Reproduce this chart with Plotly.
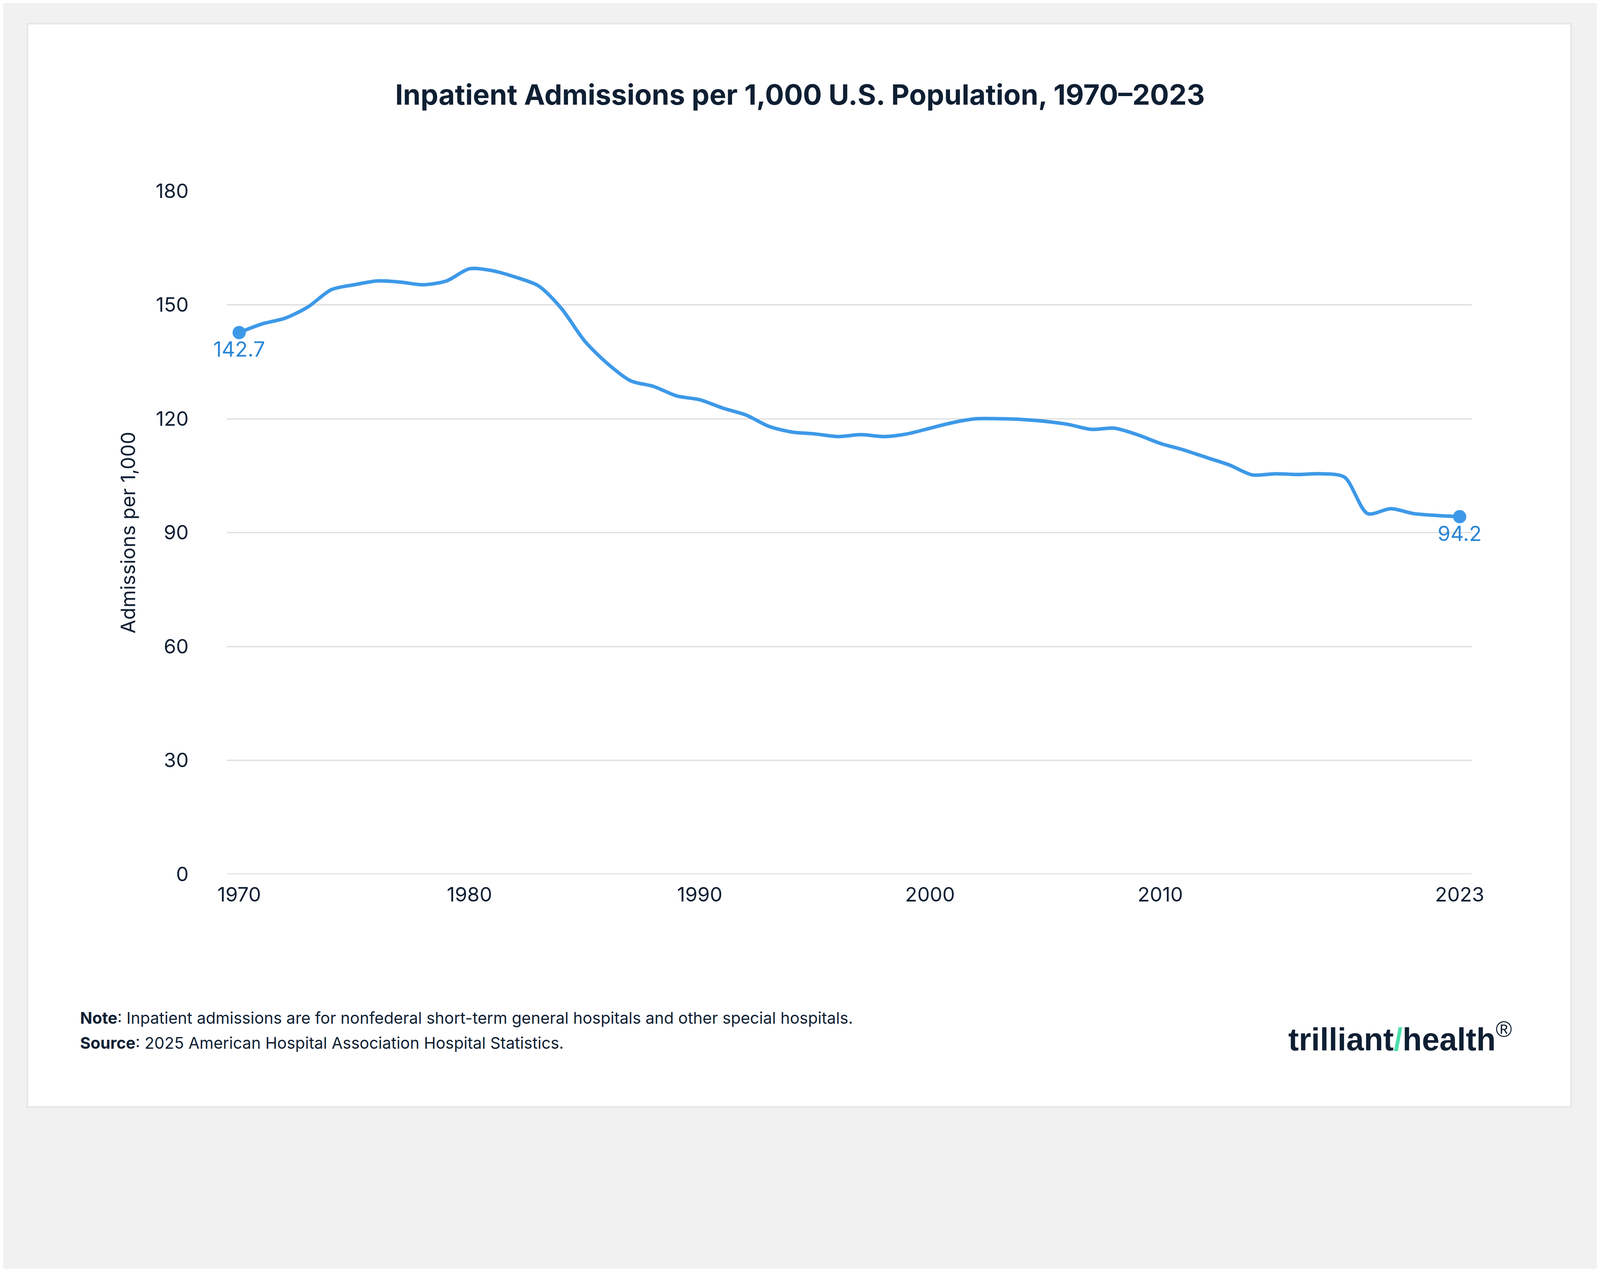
import plotly.graph_objects as go

years = list(range(1970, 2024))
admissions = [
    142.7, 145.0, 146.5, 149.5, 154.0, 155.3, 156.3, 156.0, 155.3, 156.3,
    159.5, 159.0, 157.3, 155.0, 149.0, 140.5, 134.5, 130.0, 128.5, 126.0,
    125.0, 122.8, 121.0, 118.0, 116.5, 116.0, 115.3, 115.8, 115.3, 116.0,
    117.5, 119.0, 120.0, 120.0, 119.8, 119.3, 118.5, 117.2, 117.5, 115.8,
    113.5, 111.8, 109.8, 107.8, 105.2, 105.5, 105.3, 105.5, 104.6, 95.0,
    96.3, 95.0, 94.5, 94.2,
]
x_ticks = [1970, 1980, 1990, 2000, 2010, 2023]
y_ticks = [0, 30, 60, 90, 120, 150, 180]

# the page came out zoomed ~1.13x, so everything is laid out at this scale
S = 1 / 1.13
EXTRA = 360  # viewport is taller than the reference aspect; fill it with background
W, H = round(4610 * S), round(3254 * S) + EXTRA
L, R, T, B = 647, 362, 544, 735
PW, PH = 4610 - L - R, 3254 - T - B
blue = "#3d99e8"
navy = "#0f1f33"
font = "Inter"


def px(v):
    return round(v * S)


fig = go.Figure()
fig.add_trace(go.Scatter(
    x=years, y=admissions, mode="lines",
    line=dict(color=blue, width=px(10), shape="spline", smoothing=0.8),
    hoverinfo="skip", showlegend=False,
))
fig.add_trace(go.Scatter(
    x=[years[0], years[-1]], y=[admissions[0], admissions[-1]],
    mode="markers+text", marker=dict(color=blue, size=px(38)),
    text=[f"{admissions[0]:.1f}", f"{admissions[-1]:.1f}"],
    textposition="bottom center", textfont=dict(color="#2a86d6", size=px(60), family=font),
    showlegend=False, hoverinfo="skip", cliponaxis=False,
))

fig.update_layout(
    width=W, height=H,
    paper_bgcolor="#f1f1f1", plot_bgcolor="white",
    margin=dict(l=px(L), r=px(R), t=px(T), b=px(B) + EXTRA),
    font=dict(family=font, color=navy),
    title=dict(text="<b>Inpatient Admissions per 1,000 U.S. Population, 1970–2023</b>",
               x=0.5, xanchor="center", y=1 - px(265) / H, yanchor="middle",
               font=dict(size=px(81), color=navy, family=font)),
    xaxis=dict(range=[1969.47, 2023.53], tickvals=x_ticks, showgrid=False,
               zeroline=False, showline=False, ticks="", tickfont=dict(size=px(58), color=navy),
               ticklabelstandoff=px(20)),
    yaxis=dict(range=[0, 180], tickvals=y_ticks, gridcolor="#dcdcdc", gridwidth=px(3),
               zeroline=False, ticks="", tickfont=dict(size=px(58), color=navy),
               ticklabelstandoff=px(110),
               title=dict(text="Admissions per 1,000", font=dict(size=px(58), color=navy), standoff=px(40))),
    shapes=[
        dict(type="rect", xref="paper", yref="paper", x0=-(L - 70) / PW, x1=1 + (R - 75) / PW,
             y0=-(B - 62) / PH, y1=1 + (T - 60) / PH,
             fillcolor="white", line=dict(color="#e6e6e6", width=px(4)), layer="below"),
        dict(type="line", xref="paper", yref="y", x0=0, x1=1, y0=0, y1=0,
             line=dict(color="#cfcfcf", width=px(3))),
    ],
    annotations=[
        dict(xref="paper", yref="paper", x=-(L - 220) / PW, y=-(2935 - 2519) / PH,
             xanchor="left", yanchor="middle", showarrow=False, align="left",
             text="<b>Note</b>: Inpatient admissions are for nonfederal short-term general hospitals and other special hospitals.",
             font=dict(size=px(46), color=navy)),
        dict(xref="paper", yref="paper", x=-(L - 220) / PW, y=-(3007 - 2519) / PH,
             xanchor="left", yanchor="middle", showarrow=False, align="left",
             text="<b>Source</b>: 2025 American Hospital Association Hospital Statistics.",
             font=dict(size=px(46), color=navy)),
        dict(xref="paper", yref="paper", x=1 + (4367 - 4248) / PW, y=-(2990 - 2519) / PH,
             xanchor="right", yanchor="middle", showarrow=False,
             text="<b>trilliant<span style='color:#4bdfaa'>/</span>health</b><sup>®</sup>",
             font=dict(size=px(92), color=navy, family="Liberation Sans")),
    ],
)

fig.write_html("out.html")
